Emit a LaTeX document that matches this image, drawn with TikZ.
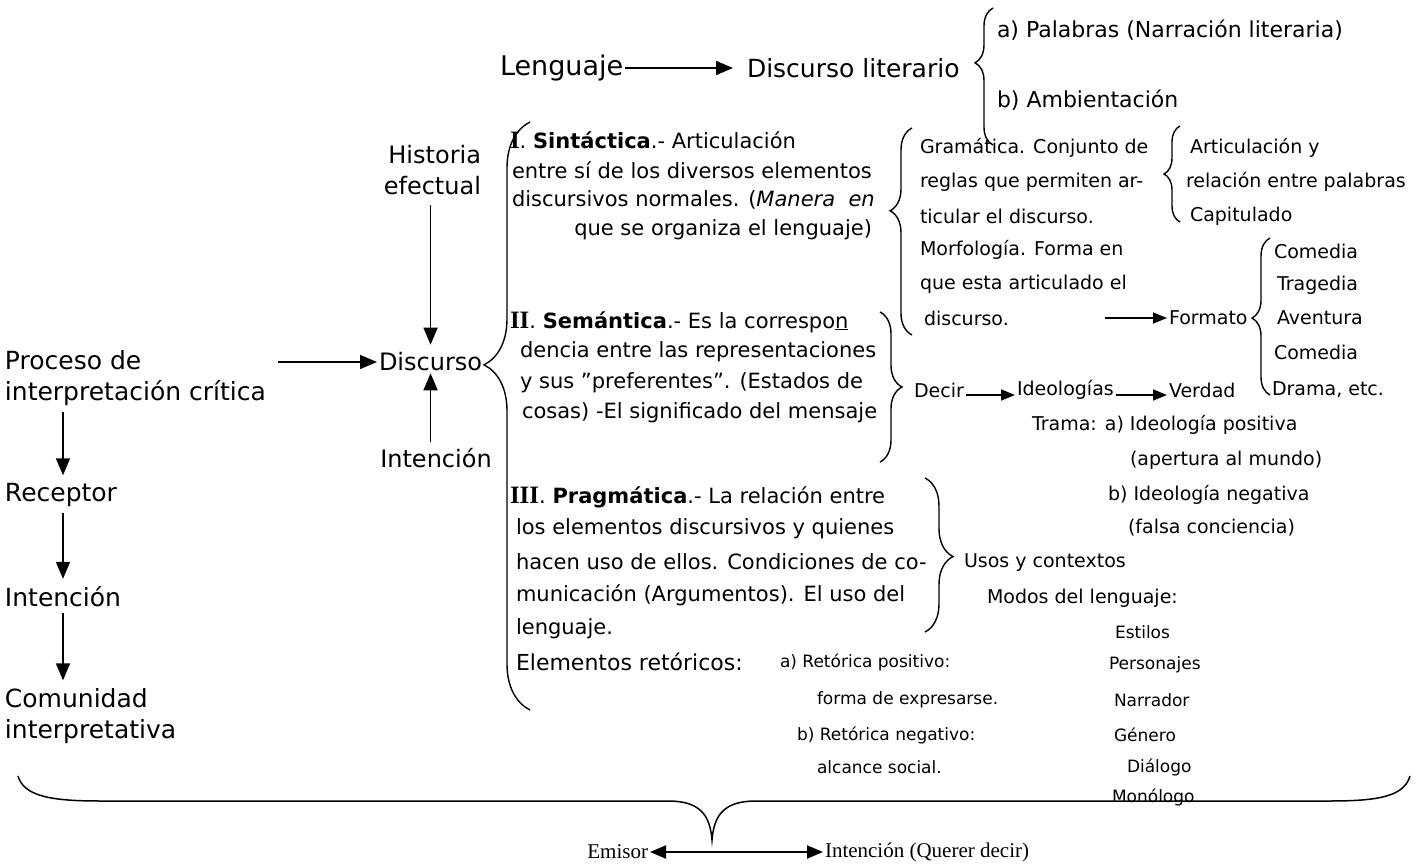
\documentclass[tikz,border=0pt]{standalone}
\usepackage{fontspec}
\setmainfont{DejaVu Sans}
\newfontfamily\tnr{Liberation Serif}
\usetikzlibrary{arrows.meta,decorations.pathreplacing}
\newcommand\rnum[1]{{\tnr\bfseries\fontsize{25}{28}\selectfont #1}}
\begin{document}
\begin{tikzpicture}[x=1pt,y=-1pt,
  every node/.style={inner sep=0pt, outer sep=2pt, anchor=west},
  huge/.style={font=\fontsize{27}{30}\selectfont},
  big/.style={font=\fontsize{25}{30}\selectfont},
  midb/.style={font=\fontsize{24}{28}\selectfont},
  mid/.style={font=\fontsize{21}{25}\selectfont},
  sml/.style={font=\fontsize{19}{23}\selectfont},
  pal/.style={font=\fontsize{22}{26}\selectfont},
  xs/.style={font=\fontsize{17}{20}\selectfont},
  tms/.style={font=\tnr\fontsize{21}{25}\selectfont},
  arr/.style={-{Triangle[length=17pt,width=14pt]}, line width=1.7pt},
  sarr/.style={-{Triangle[length=14pt,width=11pt]}, line width=1.5pt},
  dbl/.style={{Triangle[length=16pt,width=13pt]}-{Triangle[length=16pt,width=13pt]}, line width=2pt},
  brc/.style={decorate, line width=1.4pt},
]
\useasboundingbox (0,0) rectangle (1425,864);

% top line
\node[huge] (leng) at (498,68) {Lenguaje};
\node[big] (dlit) at (745,68) {Discurso literario};
\draw[arr, shorten >=12pt] (leng) -- (dlit);
\node[pal] (pal) at (995,30) {a) Palabras (Narración literaria)};
\node[pal] (amb) at (995,100) {b) Ambientación};
\draw[brc, decoration={brace, amplitude=18pt, aspect=0.6}] (993,145) -- (993,8);

% left column
\node[big] (proc1) at (3,360) {Proceso de};
\node[big] (proc2) at (3,393) {interpretación crítica};
\node[big] (rec) at (3,495) {Receptor};
\node[big] (int1) at (3,597) {Intención};
\node[big] (com1) at (3,698) {Comunidad};
\node[big] (com2) at (3,732) {interpretativa};
\draw[arr, shorten <=4pt, shorten >=6pt] ([xshift=60pt]proc2.south west) -- ([xshift=60pt]rec.north west);
\draw[arr, shorten <=4pt, shorten >=6pt] ([xshift=60pt]rec.south west) -- ([xshift=60pt]int1.north west);
\draw[arr, shorten <=4pt, shorten >=6pt] ([xshift=60pt]int1.south west) -- ([xshift=60pt]com1.north west);

% middle column
\node[midb] (disc) at (377,362) {Discurso};
\coordinate (pa) at (278,362);
\draw[arr] (pa) -- (disc);
\node[midb, anchor=east] (hist1) at (483,155) {Historia};
\node[midb, anchor=east] (hist2) at (483,186) {efectual};
\node[midb, anchor=center] (int2) at (436,458) {Intención};
\draw[arr, shorten <=8pt, shorten >=6pt] (hist2.south -| disc.north) -- (disc.north);
\draw[arr, shorten <=4pt] (int2.north -| disc.south) -- (disc.south);
\draw[brc, decoration={brace, amplitude=46pt, aspect=0.587}] (530,710) -- (530,122);

% Sintactica
\node[mid] (s1) at (508,140) {\rnum{I}. \textbf{Sintáctica}.- Articulación};
\node[mid] (s2) at (510,170) {entre sí de los diversos elementos};
\node[mid] (s3) at (510,200) {discursivos normales. (\textit{Manera\ \ en}};
\node[mid, anchor=east] (s4) at (874,230) {que se organiza el lenguaje)};

% Semantica
\node[mid] (sem1) at (508,322) {\rnum{II}. \textbf{Semántica}.- Es la correspo\underline{n}};
\node[mid] (sem2) at (518,352) {dencia entre las representaciones};
\node[mid] (sem3) at (518,383) {y sus "preferentes". (Estados de};
\node[mid] (sem4) at (520,413) {cosas) -El significado del mensaje};
\draw[brc, decoration={brace, amplitude=22pt, aspect=0.5}] (880,312) -- (880,462);

\node[sml] (dec) at (912,390) {Decir};
\node[sml] (ideo) at (1015,390) {Ideologías};
\node[sml] (ver) at (1167,390) {Verdad};
\draw[sarr] ([yshift=-5pt]dec.east) -- ([yshift=-5pt]ideo.west);
\draw[sarr] ([yshift=-5pt]ideo.east) -- ([yshift=-5pt]ver.west);
\node[sml] (tr1) at (1030,425) {Trama: a) Ideología positiva};
\node[sml] (tr2) at (1128,460) {(apertura al mundo)};
\node[sml] (tr3) at (1106,495) {b) Ideología negativa};
\node[sml] (tr4) at (1126,528) {(falsa conciencia)};

% Gramatica / Morfologia
\draw[brc, decoration={brace, amplitude=22pt, aspect=0.6}] (912,335) -- (912,128);
\node[sml] (g1) at (918,148) {Gramática. Conjunto de};
\node[sml] (g2) at (918,182) {reglas que permiten ar-};
\node[sml] (g3) at (918,216) {ticular el discurso.};
\node[sml] (g4) at (918,250) {Morfología. Forma en};
\node[sml] (g5) at (918,284) {que esta articulado el};
\node[sml] (g6) at (922,318) {discurso.};

\draw[brc, decoration={brace, amplitude=16pt, aspect=0.5}] (1180,222) -- (1180,126);
\node[sml] (a1) at (1188,148) {Articulación y};
\node[sml] (a2) at (1184,182) {relación entre palabras};
\node[sml] (a3) at (1188,216) {Capitulado};

\node[sml] (fmt) at (1167,318) {Formato};
\coordinate (fa) at (1105,318);
\draw[sarr] (fa) -- (fmt);
\draw[brc, decoration={brace, amplitude=18pt, aspect=0.49}] (1270,395) -- (1270,238);
\node[sml] (c1) at (1272,251) {Comedia};
\node[sml] (c2) at (1275,285) {Tragedia};
\node[sml] (c3) at (1275,318) {Aventura};
\node[sml] (c4) at (1272,352) {Comedia};
\node[sml] (c5) at (1270,390) {Drama, etc.};

% Pragmatica
\node[mid] (p1) at (508,497) {\rnum{III}. \textbf{Pragmática}.- La relación entre};
\node[mid] (p2) at (514,529) {los elementos discursivos y quienes};
\node[mid] (p3) at (514,562) {hacen uso de ellos. Condiciones de co-};
\node[mid] (p4) at (514,595) {municación (Argumentos). El uso del};
\node[mid] (p5) at (514,629) {lenguaje.};
\node[mid, font=\fontsize{22}{26}\selectfont] (p6) at (514,662) {Elementos retóricos:};
\node[xs] (r1) at (778,662) {a) Retórica positivo:};
\node[xs] (r2) at (815,700) {forma de expresarse.};
\node[xs] (r3) at (795,735) {b) Retórica negativo:};
\node[xs] (r4) at (815,767) {alcance social.};
\draw[brc, decoration={brace, amplitude=28pt, aspect=0.51}] (925,478) -- (925,632);

\node[sml] (us) at (962,563) {Usos y contextos};
\node[sml] (mod) at (985,598) {Modos del lenguaje:};
\node[xs] (e1) at (1113,632) {Estilos};
\node[xs] (e2) at (1107,665) {Personajes};
\node[xs] (e3) at (1112,700) {Narrador};
\node[xs] (e4) at (1112,735) {Género};
\node[xs] (e5) at (1125,767) {Diálogo};
\node[xs] (e6) at (1110,797) {Monólogo};

% bottom brace
\draw[line width=1.5pt] (18,776) .. controls (24,796) and (50,801) .. (100,801)
  -- (668,801) .. controls (700,801) and (710,815) .. (712,840)
  .. controls (714,815) and (724,801) .. (756,801)
  -- (1330,801) .. controls (1380,801) and (1404,796) .. (1410,776);
\node[tms, anchor=east] (em) at (650,852) {Emisor};
\node[tms] (qd) at (823,852) {Intención (Querer decir)};
\draw[dbl] (em) -- (qd);
\end{tikzpicture}
\end{document}
